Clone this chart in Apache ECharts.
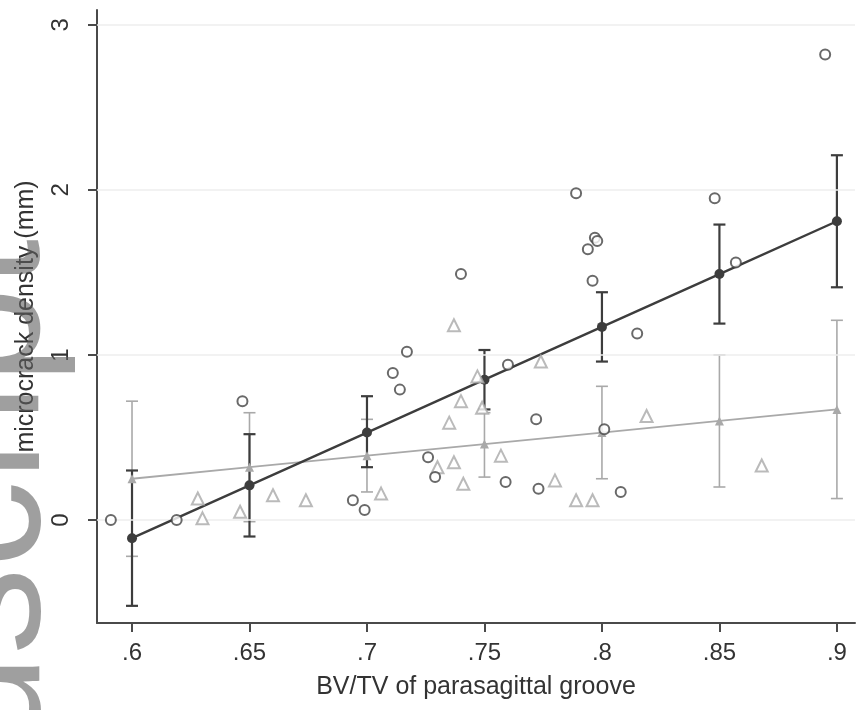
<!DOCTYPE html>
<html><head><meta charset="utf-8">
<script src="https://cdn.jsdelivr.net/npm/echarts@6/dist/echarts.min.js"></script>
<style>html,body{margin:0;padding:0;background:#fff}#c{width:856px;height:710px}</style>
</head><body><div id="c"></div>
<script>
// tick values / labels
const xTicks = [0.6, 0.65, 0.7, 0.75, 0.8, 0.85, 0.9];
const xTickLabels = ['.6', '.65', '.7', '.75', '.8', '.85', '.9'];
const yTicks = [0, 1, 2, 3];
const yTickLabels = ['0', '1', '2', '3'];

// fitted values with confidence intervals
const fitX = [0.6, 0.65, 0.7, 0.75, 0.8, 0.85, 0.9];
const darkFit = [-0.11, 0.21, 0.53, 0.85, 1.17, 1.49, 1.81];
const darkLo = [-0.52, -0.10, 0.32, 0.67, 0.96, 1.19, 1.41];
const darkHi = [0.30, 0.52, 0.75, 1.03, 1.38, 1.79, 2.21];
const lightFit = [0.25, 0.32, 0.39, 0.46, 0.53, 0.60, 0.67];
const lightLo = [-0.22, -0.01, 0.17, 0.26, 0.25, 0.20, 0.13];
const lightHi = [0.72, 0.65, 0.61, 0.65, 0.81, 1.00, 1.21];

// observed points (circles)
const circleX = [0.591, 0.619, 0.647, 0.694, 0.699, 0.717, 0.711, 0.714, 0.740, 0.726, 0.729, 0.760, 0.759, 0.772, 0.773, 0.801, 0.808, 0.815, 0.789, 0.797, 0.798, 0.794, 0.796, 0.848, 0.857, 0.895];
const circleY = [0.00, 0.00, 0.72, 0.12, 0.06, 1.02, 0.89, 0.79, 1.49, 0.38, 0.26, 0.94, 0.23, 0.61, 0.19, 0.55, 0.17, 1.13, 1.98, 1.71, 1.69, 1.64, 1.45, 1.95, 1.56, 2.82];

// observed points (triangles)
const triX = [0.628, 0.630, 0.646, 0.660, 0.674, 0.706, 0.737, 0.735, 0.740, 0.730, 0.737, 0.741, 0.757, 0.749, 0.747, 0.774, 0.780, 0.789, 0.796, 0.819, 0.868];
const triY = [0.13, 0.01, 0.05, 0.15, 0.12, 0.16, 1.18, 0.59, 0.72, 0.32, 0.35, 0.22, 0.39, 0.68, 0.87, 0.96, 0.24, 0.12, 0.12, 0.63, 0.33];

const DARK = '#3d3d3d';
const LIGHT = '#a9a9a9';

function errBar(color, width, half) {
  return function (params, api) {
    const x = api.value(0), lo = api.value(1), hi = api.value(2);
    const p1 = api.coord([x, lo]), p2 = api.coord([x, hi]);
    const st = { stroke: color, lineWidth: width };
    return { type: 'group', children: [
      { type: 'line', shape: { x1: p1[0], y1: p1[1], x2: p2[0], y2: p2[1] }, style: st },
      { type: 'line', shape: { x1: p1[0] - half, y1: p1[1], x2: p1[0] + half, y2: p1[1] }, style: st },
      { type: 'line', shape: { x1: p2[0] - half, y1: p2[1], x2: p2[0] + half, y2: p2[1] }, style: st }
    ]};
  };
}
function lookup(vals, labels, v) {
  for (let i = 0; i < vals.length; i++) if (Math.abs(vals[i] - v) < 1e-6) return labels[i];
  return '';
}
const zip = (a, b) => a.map((v, i) => [v, b[i]]);

const chart = echarts.init(document.getElementById('c'), null, { renderer: 'canvas' });
chart.setOption({
  backgroundColor: '#fff',
  animation: false,
  grid: { left: 97, right: 1, top: 10, bottom: 87, containLabel: false },
  xAxis: {
    type: 'value', min: 0.5851, max: 0.9077,
    name: 'BV/TV of parasagittal groove', nameLocation: 'middle', nameGap: 52,
    nameTextStyle: { fontFamily: 'Liberation Sans', fontSize: 25, color: '#333' },
    axisLine: { show: true, onZero: false, lineStyle: { color: '#4a4a4a', width: 2 } },
    axisTick: { show: true, customValues: xTicks, length: 9, lineStyle: { color: '#4a4a4a', width: 2 } },
    axisLabel: { customValues: xTicks, margin: 18, fontFamily: 'Liberation Sans', fontSize: 24, color: '#333',
      formatter: v => lookup(xTicks, xTickLabels, v) },
    splitLine: { show: false }
  },
  yAxis: {
    type: 'value', min: -0.624, max: 3.09,
    name: 'microcrack density (mm)', nameLocation: 'middle', nameGap: 58, nameRotate: 90,
    nameTextStyle: { fontFamily: 'Liberation Sans', fontSize: 25, color: '#333' },
    axisLine: { show: true, onZero: false, lineStyle: { color: '#4a4a4a', width: 2 } },
    axisTick: { show: true, customValues: yTicks, length: 9, lineStyle: { color: '#4a4a4a', width: 2 } },
    axisLabel: { customValues: yTicks, rotate: 90, margin: 24, fontFamily: 'Liberation Sans', fontSize: 24, color: '#333',
      formatter: v => lookup(yTicks, yTickLabels, v) },
    splitLine: { show: false }
  },
  graphic: [{
    type: 'text', x: -9, y: 239, rotation: Math.PI / 2, z: 100, silent: true,
    style: { text: 'Manuscript', fontFamily: 'Liberation Sans', fontSize: 174,
      fill: 'rgba(95,95,95,0.6)', align: 'right', verticalAlign: 'middle' }
  }],
  series: [
    { type: 'line', data: [], silent: true,
      markLine: { silent: true, symbol: 'none', label: { show: false },
        lineStyle: { color: '#eeeeee', width: 1.5, type: 'solid' },
        data: yTicks.map(v => ({ yAxis: v })) } },
    { type: 'custom', renderItem: errBar(LIGHT, 1.6, 6), encode: { x: 0, y: [1, 2] },
      data: fitX.map((x, i) => [x, lightLo[i], lightHi[i]]), z: 2 },
    { type: 'custom', renderItem: errBar(DARK, 2.2, 6), encode: { x: 0, y: [1, 2] },
      data: fitX.map((x, i) => [x, darkLo[i], darkHi[i]]), z: 3 },
    { type: 'line', data: zip(fitX, lightFit), symbol: 'triangle', symbolSize: 9, z: 4,
      lineStyle: { color: LIGHT, width: 1.8 }, itemStyle: { color: LIGHT } },
    { type: 'line', data: zip(fitX, darkFit), symbol: 'circle', symbolSize: 10, z: 5,
      lineStyle: { color: DARK, width: 2.4 }, itemStyle: { color: DARK } },
    { type: 'scatter', data: zip(triX, triY), symbol: 'emptyTriangle', symbolSize: 12, z: 6,
      itemStyle: { color: LIGHT, borderColor: LIGHT, borderWidth: 1.6 } },
    { type: 'scatter', data: zip(circleX, circleY), symbol: 'emptyCircle', symbolSize: 10, z: 7,
      itemStyle: { color: '#444', borderColor: '#444', borderWidth: 1.8 } }
  ]
});
</script>
</body></html>
